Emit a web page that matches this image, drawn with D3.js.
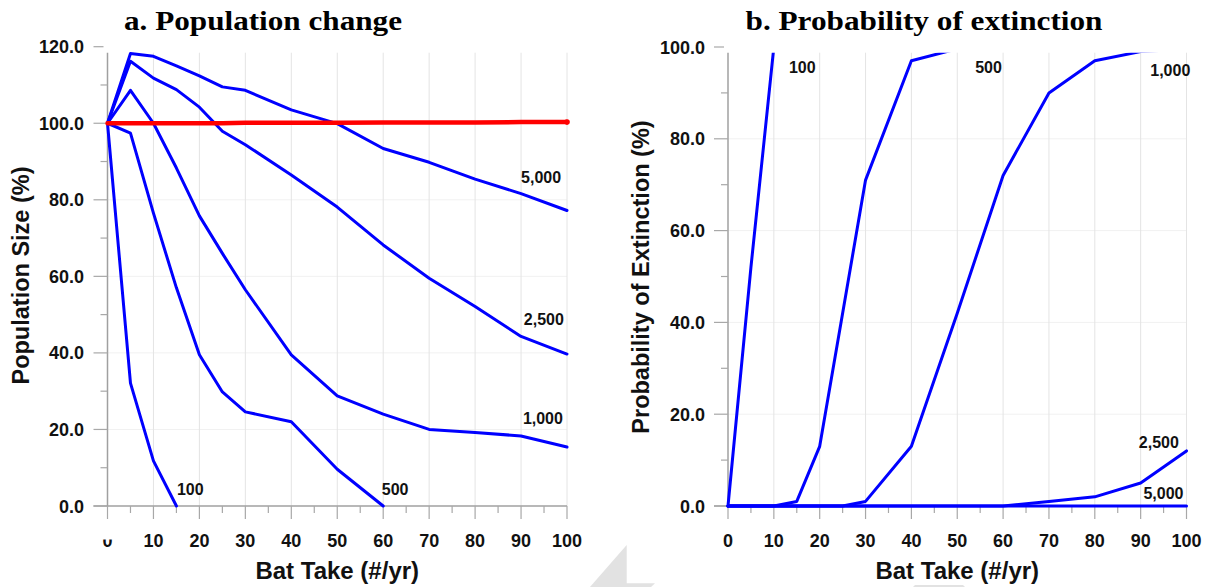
<!DOCTYPE html>
<html><head><meta charset="utf-8">
<script src="https://cdn.jsdelivr.net/npm/d3@7"></script>
<style>body{margin:0;background:#fff}svg{display:block}</style>
</head><body><svg id="c" width="1207" height="587"></svg>
<script>
// ---------- data ----------
const takes    = [0,5,10,15,20,25,30,40,50,60,70,80,90,100];
const takes500 = [0,5,10,15,20,25,30,40,50,60];
const takes100 = [0,5,10,15];

const popBaseline = [100,100,100,100,100,100,100.1,100.1,100.1,100.2,100.2,100.2,100.3,100.3];
const pop5000 = [100,118.2,117.5,115,112.4,109.5,108.6,103.5,99.9,93.4,89.8,85.4,81.6,77.2];
const pop2500 = [100,116.2,111.8,108.8,104.2,97.9,94.4,86.5,78.1,68.2,59.5,52.1,44.3,39.7];
const pop1000 = [100,108.6,100,88.3,75.8,66,56.5,39.5,28.8,24,20,19.2,18.3,15.4];
const pop500  = [100,97.4,76.5,57,39.5,29.8,24.6,22,9.6,0];
const pop100  = [100,32.1,11.8,0];

const ext100  = [0,52,100,100,100,100,100,100,100,100,100,100,100,100];
const ext500  = [0,0,0,1,13,42,71,97,99.6,100,100,100,100,100];
const ext1000 = [0,0,0,0,0,0,1,13,42,72,90,97,99,99.6];
const ext2500 = [0,0,0,0,0,0,0,0,0,0,1,2,5,12];
const ext5000 = [0,0,0,0,0,0,0,0,0,0,0,0,0,0];

const xMajor = [0,10,20,30,40,50,60,70,80,90,100];
const xMinor = [5,15,25,35,45,55,65,75,85,95];
const xTickLabels = ["0","10","20","30","40","50","60","70","80","90","100"];
const popMajor = [0,20,40,60,80,100,120];
const popMinor = [10,30,50,70,90,110];
const popTickLabels = ["0.0","20.0","40.0","60.0","80.0","100.0","120.0"];
const extMajor = [0,20,40,60,80,100];
const extMinor = [10,30,50,70,90];
const extTickLabels = ["0.0","20.0","40.0","60.0","80.0","100.0"];

const popSeriesNames = ["5,000","2,500","1,000","500","100"];
const popLabelX = [90.0,90.6,90.4,59.7,15.1];
const popLabelY = [84.4,47.3,21.4,2.9,2.9];
const extSeriesNames = ["100","500","1,000","2,500","5,000"];
const extLabelX = [13.3,53.9,92.1,89.6,90.6];
const extLabelY = [94.4,94.4,93.7,12.6,1.5];

// ---------- drawing ----------
const svg = d3.select("#c");
const BLUE = "#0000ff";
const sans = "'Liberation Sans', Arial, sans-serif";

// faint watermark fragments (behind everything)
svg.append("polygon").attr("points","626.7,545 626.7,583.3 655,583.3 651,587 590,587").attr("fill","#e2e2e2");
svg.append("polygon").attr("points","915,585 963,585 965,587 913,587").attr("fill","#e2e2e2");

function panel(opt){
  const x = d3.scaleLinear().domain([0,100]).range(opt.xr);
  const y = d3.scaleLinear().domain(opt.yd).range([506, opt.ytop]);
  const g = svg.append("g");
  const plotTop = opt.plotTop;
  const x0 = opt.xr[0], x1 = opt.xr[1], yb = 506;

  // horizontal faint grid
  g.selectAll(null).data(opt.yMajor.filter(v=>v>0 && y(v)>=plotTop)).join("line")
    .attr("x1",x0).attr("x2",x1).attr("y1",d=>y(d)).attr("y2",d=>y(d))
    .attr("stroke","#f1f1f1").attr("stroke-width",1);
  // vertical grid
  g.selectAll(null).data(xMajor.filter(v=>v>0)).join("line")
    .attr("x1",d=>x(d)).attr("x2",d=>x(d)).attr("y1",plotTop).attr("y2",yb)
    .attr("stroke","#e4e4e4").attr("stroke-width",1);

  // axes lines
  g.append("line").attr("x1",x0).attr("x2",x0).attr("y1",plotTop).attr("y2",yb+0.5)
    .attr("stroke","#a0a0a0").attr("stroke-width",1.5);
  g.append("line").attr("x1",x0-14).attr("x2",x1).attr("y1",yb).attr("y2",yb)
    .attr("stroke","#a0a0a0").attr("stroke-width",1.5);

  // y ticks
  g.selectAll(null).data(opt.yMajor).join("line")
    .attr("x1",x0-14).attr("x2",d=> y(d)<plotTop ? x0-4 : x0)
    .attr("y1",d=>y(d)).attr("y2",d=>y(d)).attr("stroke","#a8a8a8").attr("stroke-width",1.2);
  g.selectAll(null).data(opt.yMinor).join("line")
    .attr("x1",x0-7).attr("x2",x0).attr("y1",d=>y(d)).attr("y2",d=>y(d))
    .attr("stroke","#a8a8a8").attr("stroke-width",1.2);
  g.selectAll(null).data(opt.yMajor).join("text")
    .attr("x",opt.yLabelRight).attr("y",d=>y(d)+6.5).attr("text-anchor","end")
    .attr("font-family",sans).attr("font-weight","bold").attr("font-size",18).attr("fill","#111")
    .text((d,i)=>opt.yLabels[i]);

  // x ticks
  g.selectAll(null).data(xMajor).join("line")
    .attr("x1",d=>x(d)).attr("x2",d=>x(d)).attr("y1",yb).attr("y2",yb+13)
    .attr("stroke","#a8a8a8").attr("stroke-width",1.2);
  g.selectAll(null).data(xMinor).join("line")
    .attr("x1",d=>x(d)).attr("x2",d=>x(d)).attr("y1",yb).attr("y2",yb+7)
    .attr("stroke","#a8a8a8").attr("stroke-width",1.2);
  g.selectAll(null).data(xMajor).join("text")
    .attr("x",d=>x(d)).attr("y",547).attr("text-anchor","middle")
    .attr("font-family",sans).attr("font-weight","bold").attr("font-size",18).attr("fill","#111")
    .text((d,i)=>xTickLabels[i]);

  // clip
  const cid = "clip"+opt.id;
  svg.append("defs").append("clipPath").attr("id",cid).append("rect")
    .attr("x",x0-5).attr("y",opt.clipTop).attr("width",x1-x0+12).attr("height",yb-opt.clipTop+6);
  const lg = g.append("g").attr("clip-path",`url(#${cid})`);
  const line = d3.line().x(d=>x(d[0])).y(d=>y(d[1]));
  opt.series.forEach(s=>{
    lg.append("path").attr("d",line(s.xs.map((v,i)=>[v,s.ys[i]])))
      .attr("fill","none").attr("stroke",s.color).attr("stroke-width",s.w)
      .attr("stroke-linejoin","round").attr("stroke-linecap","round");
  });
  if (opt.after) opt.after(g,x,y);

  // series labels
  g.selectAll(null).data(opt.labelText).join("text")
    .attr("x",(d,i)=>x(opt.labelX[i])).attr("y",(d,i)=>y(opt.labelY[i]))
    .attr("font-family",sans).attr("font-weight","bold").attr("font-size",16).attr("fill","#111")
    .text(d=>d);

  // titles
  svg.append("text").attr("x",opt.titleX).attr("y",30).attr("text-anchor","middle")
    .attr("font-family","'Liberation Serif','Times New Roman',serif").attr("font-weight","bold")
    .attr("font-size",27).attr("fill","#000")
    .attr("textLength",opt.titleLen).attr("lengthAdjust","spacingAndGlyphs")
    .text(opt.title);
  svg.append("text").attr("x",(x0+x1)/2).attr("y",579).attr("text-anchor","middle")
    .attr("font-family",sans).attr("font-weight","bold").attr("font-size",24).attr("fill","#111")
    .text("Bat Take (#/yr)");
  svg.append("text").attr("transform",`translate(${opt.yTitleX},${opt.yTitleY}) rotate(-90)`)
    .attr("text-anchor","middle")
    .attr("font-family",sans).attr("font-weight","bold").attr("font-size",23.5).attr("fill","#111")
    .text(opt.yTitle);
  return {x,y,g};
}

// left panel
panel({
  id:"a", xr:[107.5,567], yd:[0,120], ytop:46.7, plotTop:52.7, clipTop:49,
  yMajor:popMajor, yMinor:popMinor, yLabels:popTickLabels, yLabelRight:84,
  series:[
    {xs:takes, ys:pop5000, color:BLUE, w:3},
    {xs:takes, ys:pop2500, color:BLUE, w:3},
    {xs:takes, ys:pop1000, color:BLUE, w:3},
    {xs:takes500, ys:pop500, color:BLUE, w:3},
    {xs:takes100, ys:pop100, color:BLUE, w:3},
    {xs:takes, ys:popBaseline, color:"#ff0000", w:4.5}
  ],
  after:(g,x,y)=>{
    g.append("circle").attr("cx",x(takes[takes.length-1])).attr("cy",y(popBaseline[popBaseline.length-1]))
      .attr("r",2.8).attr("fill","#ff0000");
  },
  labelText:popSeriesNames, labelX:popLabelX, labelY:popLabelY,
  title:"a. Population change", titleX:263, titleLen:278,
  yTitle:"Population Size (%)", yTitleX:29, yTitleY:275.5
});
// the partially hidden "0" tick label on the left panel
svg.append("rect").attr("x",98).attr("y",526).attr("width",20).attr("height",13.5).attr("fill","#fff");

// right panel
panel({
  id:"b", xr:[728,1186.5], yd:[0,100], ytop:47, plotTop:52.7, clipTop:52.7,
  yMajor:extMajor, yMinor:extMinor, yLabels:extTickLabels, yLabelRight:705,
  series:[
    {xs:takes, ys:ext5000, color:BLUE, w:3},
    {xs:takes, ys:ext2500, color:BLUE, w:3},
    {xs:takes, ys:ext1000, color:BLUE, w:3},
    {xs:takes, ys:ext500, color:BLUE, w:3},
    {xs:takes, ys:ext100, color:BLUE, w:3}
  ],
  labelText:extSeriesNames, labelX:extLabelX, labelY:extLabelY,
  title:"b. Probability of extinction", titleX:924, titleLen:357,
  yTitle:"Probability of Extinction (%)", yTitleX:649, yTitleY:277
});
</script></body></html>
